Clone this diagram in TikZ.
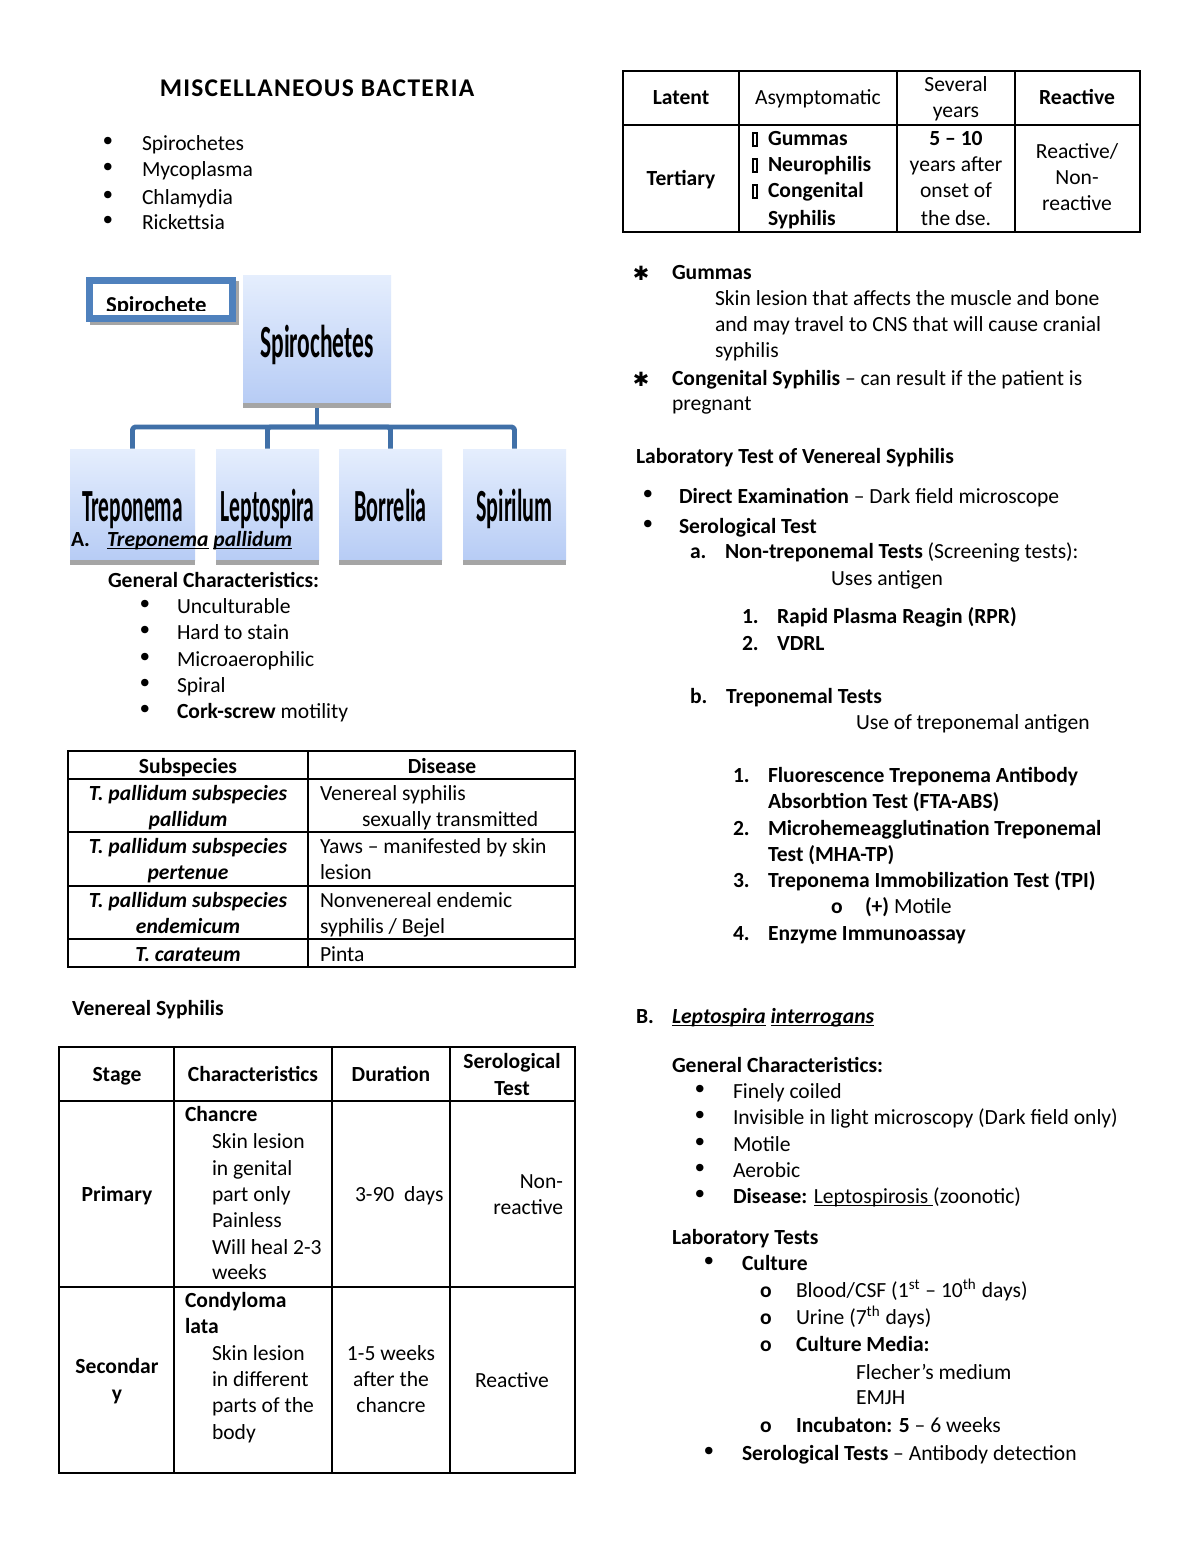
\documentclass[tikz,border=0pt]{standalone}
\usepackage{fontspec}
\setmainfont{Carlito}
\newfontfamily\symfont{DejaVu Sans}
\newfontfamily\titlefont[LetterSpace=5]{Carlito}
\definecolor{boxtop}{RGB}{229,238,253}
\definecolor{boxbot}{RGB}{183,204,245}
\definecolor{shadowgray}{RGB}{165,165,165}
\definecolor{connblue}{RGB}{64,112,168}
\definecolor{frameblue}{RGB}{79,129,189}
\newcommand\myul[1]{\setbox0\hbox{#1}\rlap{\rule[-1.6pt]{\wd0}{0.55pt}}\box0\relax}
\newcommand\txtL[4]{\node[tl] (#1) at (#2,#3) {#4};}
\newcommand\txtC[4]{\node[tc] (#1) at (#2,#3) {#4};}
\newcommand\txtR[4]{\node[tr] (#1) at (#2,#3) {#4};}
\newcommand\bul[3]{\node[bulletnode] (#1) at (#2,#3) {•};}
\newcommand\subo[3]{\node[tc] (#1) at (#2,#3) {\bfseries o};}
\newcommand\cond[2][0.48]{\scalebox{#1}[1]{\fontsize{23.5}{26}\selectfont\bfseries #2}}
\tikzset{
  tl/.style={anchor=base west, inner sep=0pt, outer sep=0pt, font=\fontsize{11}{13}\selectfont},
  tc/.style={anchor=base, inner sep=0pt, outer sep=0pt, font=\fontsize{11}{13}\selectfont},
  tr/.style={anchor=base east, inner sep=0pt, outer sep=0pt, font=\fontsize{11}{13}\selectfont},
  bulletnode/.style={anchor=base, inner sep=0pt, outer sep=0pt, font=\symfont\fontsize{13}{13}\selectfont},
  astnode/.style={anchor=base, inner sep=0pt, outer sep=0pt, font=\symfont\fontsize{10}{12}\selectfont},
  gbox/.style={top color=boxtop, bottom color=boxbot, draw=none, inner sep=0pt},
  conn/.style={draw=connblue, line width=2.5pt, rounded corners=1.5pt, line join=round},
  tabouter/.style={line width=1.4pt},
  tabinner/.style={line width=0.95pt},
  gbul/.style={draw, line width=0.9pt, minimum width=2.4pt, minimum height=6.4pt, inner sep=0pt}
}
\begin{document}
\begin{tikzpicture}[x=0.51pt,y=-0.51pt]
\fill[white] (0,0) rectangle (1200,1553);
\useasboundingbox (0,0) rectangle (1200,1553);

% ---------- Left column: title and list
\txtC{title}{317}{97}{\titlefont\fontsize{13}{14}\selectfont\bfseries MISCELLANEOUS BACTERIA}
\bul{b1}{108}{151}\txtL{l1}{142}{151}{Spirochetes}
\bul{b2}{108}{177}\txtL{l2}{142}{177}{Mycoplasma}
\bul{b3}{108}{204}\txtL{l3}{142}{204}{Chlamydia}
\bul{b4}{108}{230}\txtL{l4}{142}{230}{Rickettsia}

% ---------- Spirochetes chart
\node[gbox, minimum width={148*0.51pt}, minimum height={128*0.51pt}] (sp) at (317,339) {};
\node[gbox, minimum width={125*0.51pt}, minimum height={111*0.51pt}] (tre) at (132.5,504.5) {};
\node[gbox, minimum width={103*0.51pt}, minimum height={111*0.51pt}] (lep) at (267.5,504.5) {};
\node[gbox, minimum width={103*0.51pt}, minimum height={111*0.51pt}] (bor) at (390.5,504.5) {};
\node[gbox, minimum width={103*0.51pt}, minimum height={111*0.51pt}] (spi) at (514.5,504.5) {};
\coordinate (bar) at (317,427);
\draw[conn] (sp.south) -- (bar);
\draw[conn] (tre.north) |- (bar);
\draw[conn] (lep.north) |- (bar);
\draw[conn] (bor.north) |- (bar);
\draw[conn] (spi.north) |- (bar);
\fill[shadowgray] (243,403) rectangle (391,408);
\fill[shadowgray] (70,560) rectangle (195,565);
\fill[shadowgray] (216,560) rectangle (319,565);
\fill[shadowgray] (339,560) rectangle (442,565);
\fill[shadowgray] (463,560) rectangle (566,565);
\txtC{sptxt}{317}{357}{\cond[0.51]{Spirochetes}}
\txtC{tretxt}{132.5}{521}{\cond[0.465]{Treponema}}
\txtC{leptxt}{267.5}{521}{\cond[0.47]{Leptospira}}
\txtC{bortxt}{390.5}{521}{\cond{Borrelia}}
\txtC{spitxt}{514.5}{521}{\cond{Spirilum}}

% small framed label
\fill[shadowgray] (90,281) rectangle (239,325);
\node[draw=frameblue, line width=3.6pt, fill=white, minimum width={143*0.51pt}, minimum height={38*0.51pt}, inner sep=0pt] (spbox) at (161,299.5) {};
\begin{scope}
\clip (93,284) rectangle (229,310);
\txtL{spbtxt}{106}{312.5}{\fontsize{11.6}{13}\selectfont\bfseries Spirochete}
\end{scope}

% A. Treponema pallidum
\txtL{alab}{71}{546}{\bfseries A.}
\txtL{aname}{107}{546}{\bfseries\itshape \myul{Treponema} \myul{pallidum}}

\txtL{gc1}{108}{587}{\bfseries General Characteristics:}
\bul{c1}{145}{613}\txtL{g1}{177}{613}{Unculturable}
\bul{c2}{145}{639}\txtL{g2}{177}{639}{Hard to stain}
\bul{c3}{145}{666}\txtL{g3}{177}{666}{Microaerophilic}
\bul{c4}{145}{692}\txtL{g4}{177}{692}{Spiral}
\bul{c5}{145}{718}\txtL{g5}{177}{718}{\textbf{Cork-screw} motility}

% ---------- Table 1
\draw[tabinner] (308,751) -- (308,967);
\foreach \yy in {779,832,886,939} \draw[tabinner] (68,\yy) -- (575,\yy);
\draw[tabouter] (68,751) rectangle (575,967);
\txtC{t1h1}{188}{773}{\bfseries Subspecies}
\txtC{t1h2}{442}{773}{\bfseries Disease}
\txtC{t1a1}{188}{800}{\bfseries\itshape T. pallidum subspecies}
\txtC{t1a2}{188}{826}{\bfseries\itshape pallidum}
\txtL{t1b1}{320}{800}{Venereal syphilis}
\txtL{t1b2}{362}{826}{sexually transmitted}
\txtC{t1c1}{188}{853}{\bfseries\itshape T. pallidum subspecies}
\txtC{t1c2}{188}{879}{\bfseries\itshape pertenue}
\txtL{t1d1}{320}{853}{Yaws – manifested by skin}
\txtL{t1d2}{320}{879}{lesion}
\txtC{t1e1}{188}{907}{\bfseries\itshape T. pallidum subspecies}
\txtC{t1e2}{188}{933}{\bfseries\itshape endemicum}
\txtL{t1f1}{320}{907}{Nonvenereal endemic}
\txtL{t1f2}{320}{933}{syphilis / Bejel}
\txtC{t1g1}{188}{961}{\bfseries\itshape T. carateum}
\txtL{t1h}{320}{961}{Pinta}

% ---------- Venereal syphilis table
\txtL{vs}{72}{1015}{\bfseries Venereal Syphilis}
\foreach \xx in {174,332,450} \draw[tabinner] (\xx,1047) -- (\xx,1473);
\foreach \yy in {1101,1287} \draw[tabinner] (59,\yy) -- (575,\yy);
\draw[tabouter] (59,1047) rectangle (575,1473);
\txtC{t2h1}{117}{1081}{\bfseries Stage}
\txtC{t2h2}{253}{1081}{\bfseries Characteristics}
\txtC{t2h3}{391}{1081}{\bfseries Duration}
\txtC{t2h4}{512}{1068}{\bfseries Serological}
\txtC{t2h5}{512}{1095}{\bfseries Test}
\txtC{prim}{117}{1201}{\bfseries Primary}
\txtL{ch0}{185}{1121}{\bfseries Chancre}
\txtL{ch1}{212}{1148}{Skin lesion}
\txtL{ch2}{212}{1175}{in genital}
\txtL{ch3}{212}{1201}{part only}
\txtL{ch4}{212}{1227}{Painless}
\txtL{ch5}{212}{1254}{Will heal 2-3}
\txtL{ch6}{212}{1279}{weeks}
\txtL{dur1}{355}{1201}{3-90\ \ days}
\txtR{nr1}{563}{1188}{Non-}
\txtR{nr2}{563}{1214}{reactive}
\txtC{sec1}{117}{1373}{\bfseries Secondar}
\txtC{sec2}{117}{1400}{\bfseries y}
\txtL{cl0}{185}{1307}{\bfseries Condyloma}
\txtL{cl1}{185}{1333}{\bfseries lata}
\txtL{cl2}{212}{1360}{Skin lesion}
\txtL{cl3}{212}{1386}{in different}
\txtL{cl4}{212}{1412}{parts of the}
\txtL{cl5}{212}{1439}{body}
\txtC{dur2}{391}{1360}{1-5 weeks}
\txtC{dur3}{391}{1386}{after the}
\txtC{dur4}{391}{1412}{chancre}
\txtC{rea}{512}{1387}{Reactive}

% ---------- Table 3 (right top)
\foreach \xx in {739,897,1015} \draw[tabinner] (\xx,71) -- (\xx,232);
\draw[tabinner] (623,125) -- (1140,125);
\draw[tabouter] (623,71) rectangle (1140,232);
\txtC{t3a}{681}{105}{\bfseries Latent}
\txtC{t3b}{818}{105}{Asymptomatic}
\txtC{t3c1}{956}{92}{Several}
\txtC{t3c2}{956}{118}{years}
\txtC{t3d}{1077}{105}{\bfseries Reactive}
\txtC{t3e}{681}{186}{\bfseries Tertiary}
\node[gbul] (gb1) at (755,139.5) {};
\node[gbul] (gb2) at (755,165.5) {};
\node[gbul] (gb3) at (755,191.5) {};
\txtL{t3f1}{768}{146}{\bfseries Gummas}
\txtL{t3f2}{768}{172}{\bfseries Neurophilis}
\txtL{t3f3}{768}{198}{\bfseries Congenital}
\txtL{t3f4}{768}{225}{\bfseries Syphilis}
\txtC{t3g1}{956}{146}{\bfseries 5 – 10}
\txtC{t3g2}{956}{172}{years after}
\txtC{t3g3}{956}{198}{onset of}
\txtC{t3g4}{956}{225}{the dse.}
\txtC{t3h1}{1077}{159}{Reactive/}
\txtC{t3h2}{1077}{185}{Non-}
\txtC{t3h3}{1077}{211}{reactive}

% ---------- Right column text
\node[astnode] (ast1) at (641,280) {✱};
\txtL{gum}{672}{279}{\bfseries Gummas}
\txtL{gum1}{715}{305}{Skin lesion that affects the muscle and bone}
\txtL{gum2}{715}{331}{and may travel to CNS that will cause cranial}
\txtL{gum3}{715}{357}{syphilis}
\node[astnode] (ast2) at (641,386) {✱};
\txtL{cong}{672}{385}{\textbf{Congenital Syphilis} – can result if the patient is}
\txtL{cong2}{672}{410}{pregnant}

\txtL{lab}{636}{463}{\bfseries Laboratory Test of Venereal Syphilis}
\bul{rb1}{648}{503}\txtL{de}{679}{503}{\textbf{Direct Examination} – Dark field microscope}
\bul{rb2}{648}{533}\txtL{st}{679}{533}{\bfseries Serological Test}
\txtL{aa}{690}{558}{\bfseries a.}
\txtL{ntt}{725}{558}{\textbf{Non-treponemal Tests} (Screening tests):}
\txtL{ua}{831}{585}{Uses antigen}
\txtL{n1}{742}{623}{\bfseries 1.}\txtL{rpr}{777}{623}{\bfseries Rapid Plasma Reagin (RPR)}
\txtL{n2}{742}{650}{\bfseries 2.}\txtL{vdrl}{777}{650}{\bfseries VDRL}
\txtL{bb}{690}{703}{\bfseries b.}\txtL{tt}{726}{703}{\bfseries Treponemal Tests}
\txtL{uot}{856}{729}{Use of treponemal antigen}
\txtL{m1}{733}{782}{\bfseries 1.}\txtL{fta1}{768}{782}{\bfseries Fluorescence Treponema Antibody}
\txtL{fta2}{768}{808}{\bfseries Absorbtion Test (FTA-ABS)}
\txtL{m2}{733}{835}{\bfseries 2.}\txtL{mha1}{768}{835}{\bfseries Microhemeagglutination Treponemal}
\txtL{mha2}{768}{861}{\bfseries Test (MHA-TP)}
\txtL{m3}{733}{887}{\bfseries 3.}\txtL{tpi}{768}{887}{\bfseries Treponema Immobilization Test (TPI)}
\subo{o1}{837}{913}\txtL{mot}{865}{913}{\textbf{(+)} Motile}
\txtL{m4}{733}{940}{\bfseries 4.}\txtL{eia}{768}{940}{\bfseries Enzyme Immunoassay}

\txtL{bB}{636}{1023}{\bfseries B.}
\txtL{lepto}{672}{1023}{\bfseries\itshape \myul{Leptospira} \myul{interrogans}}
\txtL{gc2}{672}{1072}{\bfseries General Characteristics:}
\bul{lb1}{700}{1098}\txtL{fc}{733}{1098}{Finely coiled}
\bul{lb2}{700}{1124}\txtL{inv}{733}{1124}{Invisible in light microscopy (Dark field only)}
\bul{lb3}{700}{1151}\txtL{mo}{733}{1151}{Motile}
\bul{lb4}{700}{1177}\txtL{ae}{733}{1177}{Aerobic}
\bul{lb5}{700}{1203}\txtL{dis}{733}{1203}{\textbf{Disease:} \myul{Leptospirosis }(zoonotic)}
\txtL{lt}{672}{1244}{\bfseries Laboratory Tests}
\bul{lb6}{709}{1270}\txtL{cul}{742}{1270}{\bfseries Culture}
\subo{o2}{766}{1297}\txtL{bl}{796}{1297}{Blood/CSF (1\textsuperscript{st} – 10\textsuperscript{th} days)}
\subo{o3}{766}{1324}\txtL{ur}{796}{1324}{Urine (7\textsuperscript{th} days)}
\subo{o4}{766}{1351}\txtL{cm}{796}{1351}{\bfseries Culture Media:}
\txtL{fl}{856}{1379}{Flecher’s medium}
\txtL{em}{856}{1404}{EMJH}
\subo{o5}{766}{1432}\txtL{inc}{796}{1432}{\textbf{Incubaton: 5} – 6 weeks}
\bul{lb7}{709}{1460}\txtL{ser}{742}{1460}{\textbf{Serological Tests} – Antibody detection}
\end{tikzpicture}
\end{document}
